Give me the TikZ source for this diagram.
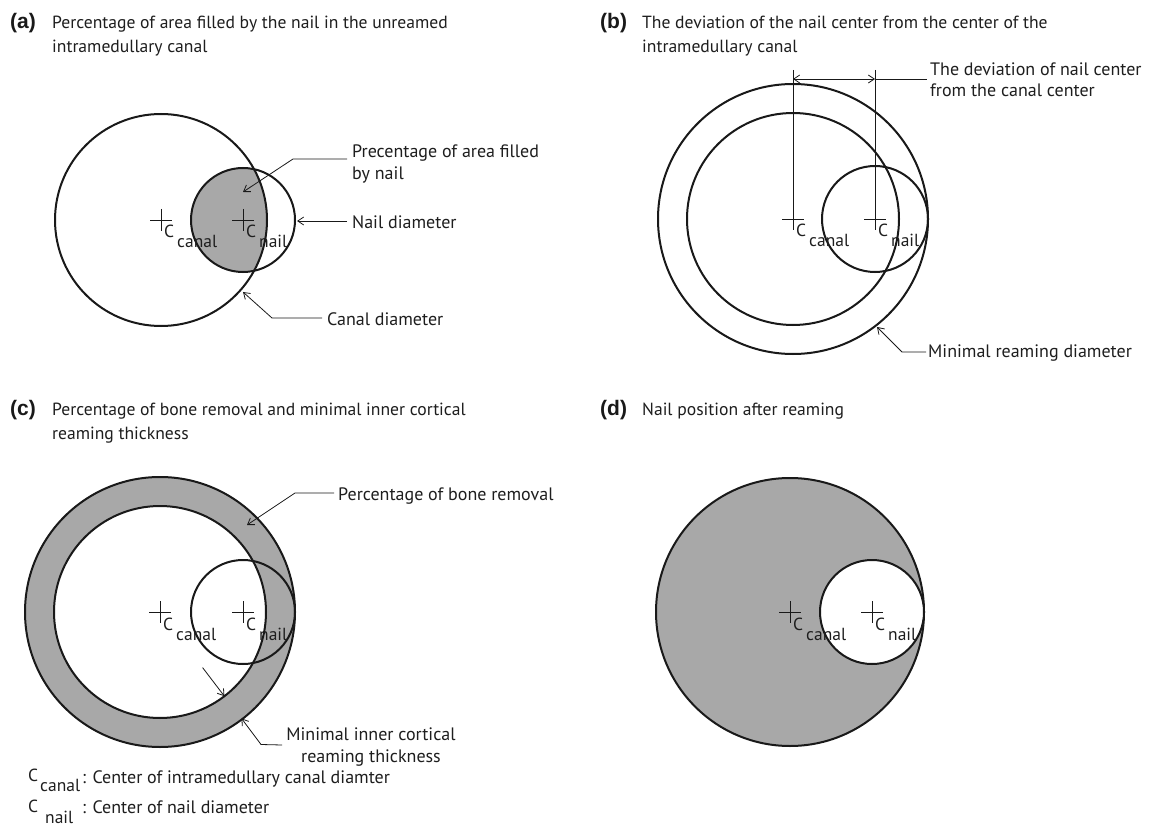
\documentclass[tikz,border=0pt]{standalone}
\usepackage{fontspec}
\setmainfont{PT Sans}
\newfontfamily\panfont{Liberation Sans}
\usetikzlibrary{arrows.meta,calc}
\definecolor{fillgray}{RGB}{168,168,168}
\definecolor{ink}{RGB}{25,25,25}
\definecolor{txt}{RGB}{30,30,30}
\newcommand{\mkcross}[4]{%
  \coordinate (#4) at (#1,#2);
  \draw[crossline] ($(#4)+(-11,0)$) -- ($(#4)+(11,0)$) ($(#4)+(0,-11)$) -- ($(#4)+(0,11)$);
  \node[cfont] (#4C) at ($(#4)+(3,18)$) {C};
  \node[cfont] (#4s) at ($(#4)+(16,28)$) {#3};
}
\begin{document}
\begin{tikzpicture}[x=1pt,y=-1pt,
  circ/.style={line width=2pt, draw=ink},
  crossline/.style={line width=0.8pt, draw=ink},
  leader/.style={line width=0.8pt, draw=ink},
  ptr/.style={leader, -{Straight Barb[length=6pt,width=8pt]}},
  dimline/.style={leader, {Straight Barb[length=6pt,width=8pt]}-{Straight Barb[length=6pt,width=8pt]}},
  ttl/.style={font=\fontsize{17.6}{22}\selectfont, text=txt, inner sep=0, anchor=base west},
  lbl/.style={font=\fontsize{18}{22}\selectfont, text=txt, inner sep=0, anchor=base west},
  cfont/.style={font=\fontsize{17.5}{20}\selectfont, text=txt, inner sep=0, anchor=base west},
  pan/.style={font=\panfont\bfseries\fontsize{21}{24}\selectfont, text=ink, inner sep=0, anchor=base west}]
\useasboundingbox (0,0) rectangle (1151,834);
\fill[white] (0,0) rectangle (1151,834);

% ---------------- titles
\node[pan] (pa) at (10,29) {(a)};
\node[ttl] (ta1) at (52,29) {Percentage of area filled by the nail in the unreamed};
\node[ttl] (ta2) at (52,53) {intramedullary canal};
\node[pan] (pb) at (600,29) {(b)};
\node[ttl] (tb1) at (642,29) {The deviation of the nail center from the center of the};
\node[ttl] (tb2) at (642,53) {intramedullary canal};
\node[pan] (pc) at (10,415) {(c)};
\node[ttl] (tc1) at (52,415) {Percentage of bone removal and minimal inner cortical};
\node[ttl] (tc2) at (52,439) {reaming thickness};
\node[pan] (pd) at (600,415) {(d)};
\node[ttl] (td1) at (642,415) {Nail position after reaming};

% ---------------- panel (a)
\coordinate (a-cc) at (161,220);
\coordinate (a-nc) at (243,220);
\begin{scope}
  \clip (a-cc) circle[radius=106];
  \fill[fillgray] (a-nc) circle[radius=52];
\end{scope}
\draw[circ] (a-cc) circle[radius=106];
\draw[circ] (a-nc) circle[radius=52];
\mkcross{161}{220}{canal}{a-xc}
\mkcross{243}{220}{nail}{a-xn}
\node[lbl] (la1) at (352,158) {Precentage of area filled};
\node[lbl] (la2) at (352,180) {by nail};
\coordinate (la-k) at (293,159);
\coordinate (la-t) at (243,192);
\draw[ptr] ($(la1.base west)+(-5,1)$) -- (la-k) -- (la-t);
\node[lbl] (lb) at (352,229) {Nail diameter};
\coordinate (lb-t) at (297,221);
\draw[ptr] ($(lb.base west)+(-5,-8)$) -- (lb-t);
\node[lbl] (lc) at (327,325) {Canal diameter};
\coordinate (lc-k) at (272,318);
\coordinate (lc-t) at (243,292);
\draw[ptr] ($(lc.base west)+(-5,-7)$) -- (lc-k) -- (lc-t);

% ---------------- panel (b)
\coordinate (b-cc) at (793,219);
\coordinate (b-nc) at (875,219);
\draw[circ] (b-cc) circle[radius=135];
\draw[circ] (b-cc) circle[radius=106];
\draw[circ] (b-nc) circle[radius=53];
\mkcross{793}{219}{canal}{b-xc}
\mkcross{875}{219}{nail}{b-xn}
\coordinate (b-v1) at (793,70);
\coordinate (b-v2) at (875,70);
\draw[leader] (b-v1) -- (b-xc);
\draw[leader] (b-v2) -- (b-xn);
\coordinate (b-d1) at (793,79);
\coordinate (b-d2) at (875,79);
\draw[dimline] (b-d1) -- (b-d2);
\node[lbl] (ld1) at (930,76) {The deviation of nail center};
\node[lbl] (ld2) at (930,97) {from the canal center};
\draw[leader] (b-d2) -- ($(ld1.base west)+(-3,3)$);
\node[lbl] (le) at (928,357) {Minimal reaming diameter};
\coordinate (le-k) at (902,352);
\coordinate (le-t) at (877,327);
\draw[ptr] ($(le.base west)+(-2,-5)$) -- (le-k) -- (le-t);

% ---------------- panel (c)
\coordinate (c-cc) at (160,612);
\coordinate (c-nc) at (243,612);
\fill[fillgray] (c-cc) circle[radius=135];
\fill[white] (c-cc) circle[radius=106];
\draw[circ] (c-cc) circle[radius=135];
\draw[circ] (c-cc) circle[radius=106];
\draw[circ] (c-nc) circle[radius=52];
\mkcross{160}{612}{canal}{c-xc}
\mkcross{243}{612}{nail}{c-xn}
\node[lbl] (lf) at (338,500) {Percentage of bone removal};
\coordinate (lf-k) at (295,493);
\coordinate (lf-t) at (247,525);
\draw[ptr] ($(lf.base west)+(-4,-7)$) -- (lf-k) -- (lf-t);
\node[lbl, anchor=base] (lg1) at (371,740) {Minimal inner cortical};
\node[lbl, anchor=base] (lg2) at (371,762) {reaming thickness};
\coordinate (lg-s) at (202.6,667.6);
\coordinate (lg-i) at (224.4,696.2);
\coordinate (lg-o) at (241.5,718.4);
\coordinate (lg-k) at (261,744.5);
\draw[ptr] (lg-s) -- (lg-i);
\draw[ptr] ($(lg1.base west)+(-4,5)$) -- (lg-k) -- (lg-o);

% ---------------- panel (d)
\coordinate (d-cc) at (790,612);
\coordinate (d-nc) at (872,612);
\fill[fillgray] (d-cc) circle[radius=134];
\draw[circ] (d-cc) circle[radius=134];
\fill[white] (d-nc) circle[radius=52];
\draw[circ] (d-nc) circle[radius=52];
\mkcross{790}{612}{canal}{d-xc}
\mkcross{872}{612}{nail}{d-xn}

% ---------------- legend
\node[cfont] (k1C) at (28,781) {C};
\node[cfont] (k1s) at (40,791) {canal};
\node[lbl] (k1t) at (82,783) {: Center of intramedullary canal diamter};
\node[cfont] (k2C) at (28,812) {C};
\node[cfont] (k2s) at (45,823) {nail};
\node[lbl] (k2t) at (82,813) {: Center of nail diameter};
\end{tikzpicture}
\end{document}
